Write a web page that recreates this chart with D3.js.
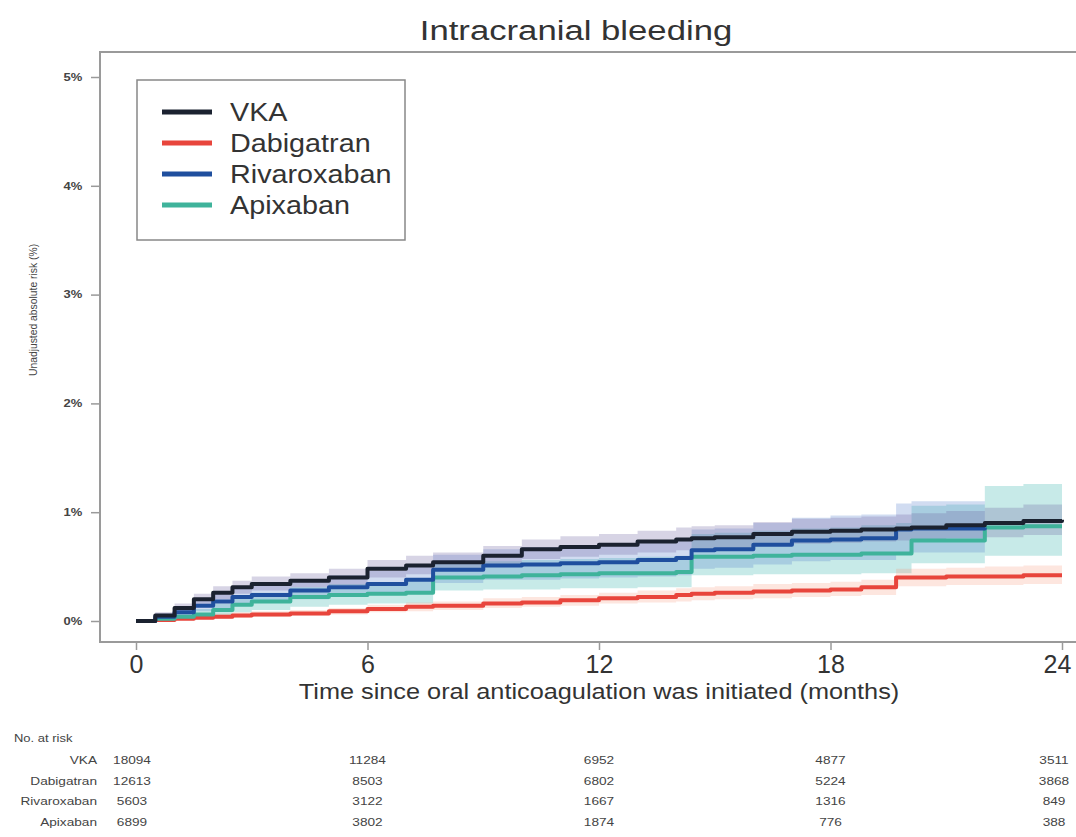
<!DOCTYPE html>
<html>
<head>
<meta charset="utf-8">
<script src="https://cdn.jsdelivr.net/npm/d3@7"></script>
<style>
  body { margin: 0; background: #fff; font-family: "Liberation Sans", Arial, sans-serif; }
  svg { display: block; }
</style>
</head>
<body>
<div id="chart"></div>
<script>
// Time grid (months) shared by all curves
const months = [0, 0.5, 1, 1.5, 2, 2.5, 3, 4, 5, 6, 7, 7.7, 9, 10, 11, 12, 13, 14, 14.4, 15, 16, 17, 18, 18.8, 19.7, 20.1, 21, 22, 23, 24];

// Cumulative risk (%) and confidence limits
const vka   = [0, 0.05, 0.12, 0.2, 0.26, 0.31, 0.34, 0.37, 0.4, 0.48, 0.51, 0.54, 0.6, 0.66, 0.68, 0.7, 0.73, 0.75, 0.76, 0.77, 0.8, 0.82, 0.83, 0.84, 0.85, 0.86, 0.88, 0.9, 0.92, 0.93];
const vkaHi = [0, 0.08, 0.16, 0.25, 0.32, 0.37, 0.41, 0.44, 0.48, 0.56, 0.6, 0.63, 0.69, 0.75, 0.78, 0.8, 0.83, 0.86, 0.87, 0.88, 0.91, 0.94, 0.95, 0.96, 0.98, 0.99, 1.01, 1.04, 1.07, 1.08];
const vkaLo = [0, 0.03, 0.08, 0.15, 0.2, 0.25, 0.28, 0.31, 0.33, 0.4, 0.43, 0.46, 0.51, 0.57, 0.59, 0.61, 0.63, 0.65, 0.66, 0.67, 0.69, 0.71, 0.72, 0.73, 0.74, 0.74, 0.76, 0.77, 0.79, 0.8];

const dabi   = [0, 0.01, 0.02, 0.03, 0.04, 0.05, 0.06, 0.07, 0.09, 0.11, 0.13, 0.14, 0.16, 0.17, 0.19, 0.21, 0.22, 0.24, 0.25, 0.26, 0.27, 0.28, 0.29, 0.31, 0.4, 0.4, 0.41, 0.41, 0.42, 0.42];
const dabiHi = [0, 0.02, 0.04, 0.05, 0.07, 0.08, 0.09, 0.1, 0.12, 0.15, 0.17, 0.18, 0.21, 0.22, 0.24, 0.26, 0.28, 0.3, 0.31, 0.32, 0.34, 0.35, 0.36, 0.38, 0.48, 0.48, 0.49, 0.5, 0.51, 0.52];
const dabiLo = [0, 0, 0.01, 0.02, 0.02, 0.03, 0.04, 0.05, 0.06, 0.08, 0.09, 0.1, 0.12, 0.13, 0.14, 0.16, 0.17, 0.18, 0.19, 0.2, 0.21, 0.22, 0.23, 0.24, 0.32, 0.32, 0.33, 0.33, 0.34, 0.34];

const riva   = [0, 0.04, 0.08, 0.14, 0.18, 0.22, 0.24, 0.28, 0.31, 0.34, 0.38, 0.47, 0.51, 0.52, 0.53, 0.54, 0.56, 0.58, 0.65, 0.66, 0.7, 0.74, 0.75, 0.76, 0.84, 0.85, 0.85, 0.86];
const rivaHi = [0, 0.07, 0.13, 0.2, 0.25, 0.3, 0.33, 0.38, 0.42, 0.46, 0.51, 0.61, 0.66, 0.68, 0.69, 0.71, 0.73, 0.76, 0.84, 0.85, 0.9, 0.95, 0.97, 0.98, 1.08, 1.1, 1.1, 1.12];
const rivaLo = [0, 0.02, 0.05, 0.09, 0.12, 0.15, 0.17, 0.2, 0.22, 0.24, 0.27, 0.35, 0.38, 0.38, 0.39, 0.4, 0.41, 0.42, 0.48, 0.49, 0.52, 0.55, 0.56, 0.56, 0.62, 0.63, 0.63, 0.63];

const apix   = [0, 0.02, 0.04, 0.06, 0.1, 0.15, 0.18, 0.22, 0.24, 0.25, 0.26, 0.4, 0.41, 0.42, 0.43, 0.44, 0.44, 0.45, 0.59, 0.59, 0.6, 0.61, 0.61, 0.62, 0.62, 0.74, 0.74, 0.86, 0.87, 0.87];
const apixHi = [0, 0.05, 0.08, 0.11, 0.16, 0.22, 0.26, 0.31, 0.34, 0.35, 0.37, 0.53, 0.55, 0.56, 0.57, 0.58, 0.59, 0.6, 0.8, 0.81, 0.83, 0.85, 0.86, 0.88, 0.9, 1.06, 1.07, 1.24, 1.26, 1.27];
const apixLo = [0, 0.01, 0.02, 0.03, 0.05, 0.08, 0.1, 0.13, 0.15, 0.16, 0.16, 0.28, 0.29, 0.29, 0.3, 0.3, 0.31, 0.31, 0.42, 0.42, 0.43, 0.43, 0.43, 0.44, 0.44, 0.53, 0.53, 0.6, 0.6, 0.6];

const seriesNames = ["VKA", "Dabigatran", "Rivaroxaban", "Apixaban"];
const xTicks = [0, 6, 12, 18, 24];
const yTicks = [0, 1, 2, 3, 4, 5];

// Numbers at risk at each x tick
const atRiskVKA  = [18094, 11284, 6952, 4877, 3511];
const atRiskDabi = [12613, 8503, 6802, 5224, 3868];
const atRiskRiva = [5603, 3122, 1667, 1316, 849];
const atRiskApix = [6899, 3802, 1874, 776, 388];

const colors = { VKA: "#1b2230", Dabigatran: "#e8453c", Rivaroxaban: "#1f4f9e", Apixaban: "#3fb39b" };
const bandColors = { VKA: "rgba(110,100,160,0.28)", Dabigatran: "rgba(245,140,110,0.22)", Rivaroxaban: "rgba(90,130,205,0.28)", Apixaban: "rgba(70,185,180,0.3)" };

const series = [
  { name: "VKA", y: vka, lo: vkaLo, hi: vkaHi },
  { name: "Dabigatran", y: dabi, lo: dabiLo, hi: dabiHi },
  { name: "Rivaroxaban", y: riva, lo: rivaLo, hi: rivaHi },
  { name: "Apixaban", y: apix, lo: apixLo, hi: apixHi }
];
const atRisk = [atRiskVKA, atRiskDabi, atRiskRiva, atRiskApix];

const W = 1076, H = 837;
const svg = d3.select("#chart").append("svg").attr("width", W).attr("height", H);

const x = d3.scaleLinear().domain([0, 24]).range([136, 1062]);
const y = d3.scaleLinear().domain([0, 5]).range([621, 77]);

// the source picture is stretched sideways, so text gets a horizontal scale
function wideText(parent, tx, ty, str, size, sx, anchor, fill) {
  return parent.append("g").attr("transform", `translate(${tx},${ty}) scale(${sx},1)`)
    .append("text").attr("text-anchor", anchor || "start")
    .attr("font-size", size).attr("fill", fill || "#333").text(str);
}

// Title
wideText(svg, 576, 40, "Intracranial bleeding", 28, 1.24, "middle");

// Plot frame
svg.append("rect").attr("x", 100).attr("y", 52).attr("width", 1000).attr("height", 590)
  .attr("fill", "none").attr("stroke", "#9a9a9a").attr("stroke-width", 2);

const band = d3.area().curve(d3.curveStepAfter)
  .x(d => x(d.t)).y0(d => y(d.lo)).y1(d => y(d.hi));
const line = d3.line().curve(d3.curveStepAfter)
  .x(d => x(d.t)).y(d => y(d.v));

const toPts = s => s.y.map((v, i) => ({ t: months[i], v: v, lo: s.lo[i], hi: s.hi[i] }));

[...series].reverse().forEach(s => {
  svg.append("path").attr("d", band(toPts(s))).attr("fill", bandColors[s.name]);
});
["Dabigatran", "Apixaban", "Rivaroxaban", "VKA"].forEach(n => {
  const s = series.find(d => d.name === n);
  svg.append("path").attr("d", line(toPts(s))).attr("fill", "none")
    .attr("stroke", colors[n]).attr("stroke-width", 4).attr("stroke-linejoin", "round");
});

// Y axis
const yAxis = svg.append("g").attr("transform", "translate(100,0)")
  .call(d3.axisLeft(y).tickValues(yTicks).tickSize(9).tickFormat(d => d + "%"));
yAxis.select(".domain").remove();
yAxis.selectAll("line").attr("stroke", "#9a9a9a").attr("stroke-width", 1.5);
yAxis.selectAll("text").attr("font-size", 10).attr("font-weight", "bold").attr("fill", "#444")
  .attr("x", -27 / 1.3).attr("text-anchor", "middle").attr("transform", "scale(1.3,1)")
  .attr("font-family", "Liberation Sans, Arial, sans-serif");

svg.append("text").attr("transform", "translate(37,310) rotate(-90) scale(1.15,1.25)").attr("text-anchor", "middle")
  .attr("font-size", 9).attr("fill", "#444").text("Unadjusted absolute risk (%)");

// X axis
const xAxis = svg.append("g").attr("transform", "translate(0,642)")
  .call(d3.axisBottom(x).tickValues(xTicks).tickSize(8).tickPadding(5));
xAxis.select(".domain").remove();
xAxis.selectAll("line").attr("stroke", "#9a9a9a").attr("stroke-width", 1.5);
xAxis.selectAll("text").attr("font-size", 25).attr("fill", "#333")
  .attr("font-family", "Liberation Sans, Arial, sans-serif")
  .attr("dx", d => d === 24 ? -5 : 0);

wideText(svg, 599, 699, "Time since oral anticoagulation was initiated (months)", 22, 1.15, "middle");

// Legend
const lg = svg.append("g");
lg.append("rect").attr("x", 137).attr("y", 80).attr("width", 268).attr("height", 160)
  .attr("fill", "#fff").attr("stroke", "#888").attr("stroke-width", 1.5);
seriesNames.forEach((n, i) => {
  const ly = 112 + i * 31;
  lg.append("line").attr("x1", 162).attr("x2", 212).attr("y1", ly).attr("y2", ly)
    .attr("stroke", colors[n]).attr("stroke-width", 5);
  wideText(lg, 230, ly + 9, n, 25, 1.15, "start");
});

// Numbers at risk table
wideText(svg, 14, 742, "No. at risk", 10, 1.3, "start", "#444");
const colX = [132, x(6), x(12), x(18), 1054];
seriesNames.forEach((n, i) => {
  const ry = 764 + i * 20.7;
  wideText(svg, 97, ry, n, 10.5, 1.3, "end", "#444");
  atRisk[i].forEach((v, j) => {
    wideText(svg, colX[j], ry, v, 10.5, 1.3, "middle", "#444");
  });
});
</script>
</body>
</html>
